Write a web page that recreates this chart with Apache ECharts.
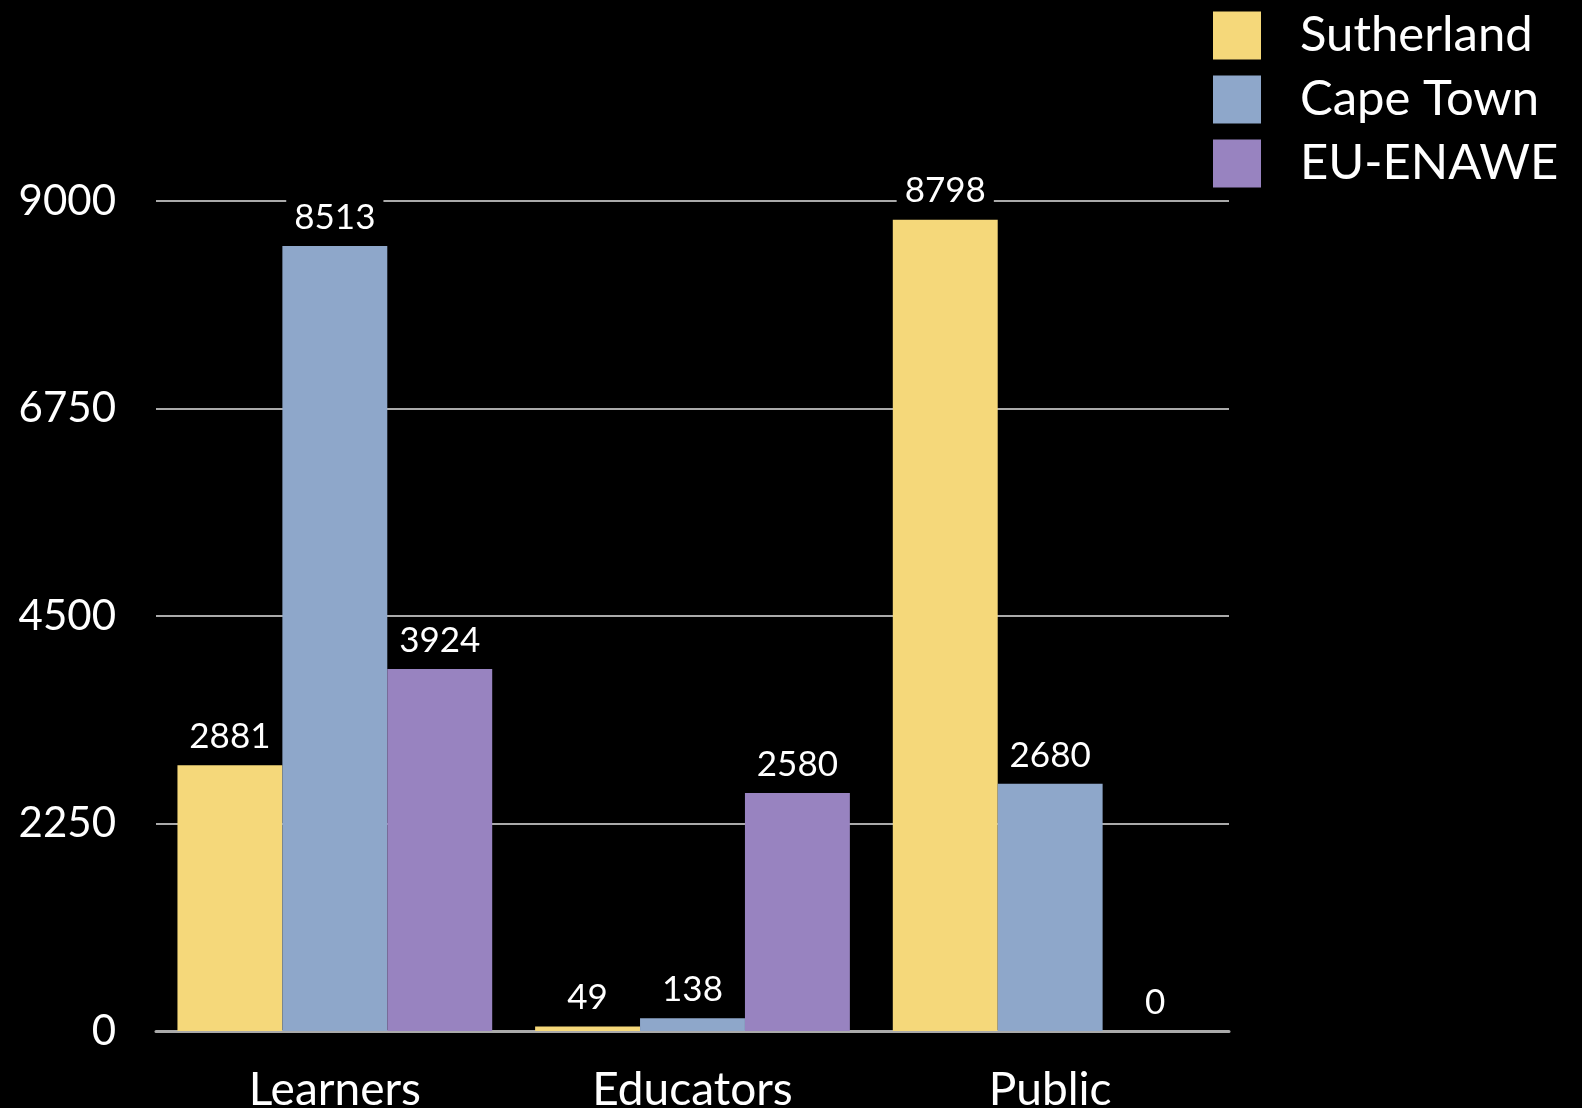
<!DOCTYPE html>
<html>
<head>
<meta charset="utf-8">
<script src="https://cdn.jsdelivr.net/npm/echarts@6/dist/echarts.min.js"></script>
<style>
html,body{margin:0;padding:0;background:#000;overflow:hidden;}
#chart{width:1582px;height:1108px;}
</style>
</head>
<body>
<div id="chart"></div>
<script>
const categories = ['Learners', 'Educators', 'Public'];
const sutherland = [2881, 49, 8798];
const capeTown = [8513, 138, 2680];
const euEnawe = [3924, 2580, 0];
const seriesNames = ['Sutherland', 'Cape Town', 'EU-ENAWE'];
const colors = ['#F5D87A', '#8EA7CA', '#9883C0'];

const font = 'Lato, "Open Sans", sans-serif';
const chart = echarts.init(document.getElementById('chart'));

function makeSeries(name, data, color) {
  return {
    name: name,
    type: 'bar',
    data: data,
    barGap: '0%',
    barCategoryGap: '12%',
    itemStyle: { color: color },
    label: {
      show: true,
      position: 'top',
      distance: 11,
      color: '#fff',
      fontFamily: font,
      fontSize: 35,
      backgroundColor: '#000',
      padding: [2, 8, 0, 8]
    }
  };
}

chart.setOption({
  backgroundColor: '#000',
  animation: false,
  grid: { left: 156, right: 353, top: 201, bottom: 77, containLabel: false, outerBoundsMode: 'none' },
  legend: {
    orient: 'vertical',
    left: 1208,
    top: 6,
    itemWidth: 48,
    itemHeight: 48,
    itemGap: 15,
    icon: 'rect',
    data: seriesNames,
    textStyle: { color: '#fff', fontFamily: font, fontSize: 49, padding: [0, 0, 0, 34] }
  },
  xAxis: {
    type: 'category',
    data: categories,
    axisTick: { show: false },
    axisLine: { lineStyle: { color: '#aaa', width: 3 } },
    axisLabel: { color: '#fff', fontFamily: font, fontSize: 46, margin: 36 }
  },
  yAxis: {
    type: 'value',
    min: 0,
    max: 9000,
    interval: 2250,
    axisLine: { show: false },
    axisTick: { show: false },
    splitLine: { lineStyle: { color: '#aaa', width: 2 } },
    axisLabel: {
      color: '#fff', fontFamily: font, fontSize: 42, margin: 40,
      formatter: function (v) { return String(v); }
    }
  },
  series: [
    makeSeries(seriesNames[0], sutherland, colors[0]),
    makeSeries(seriesNames[1], capeTown, colors[1]),
    makeSeries(seriesNames[2], euEnawe, colors[2])
  ]
});
</script>
</body>
</html>
